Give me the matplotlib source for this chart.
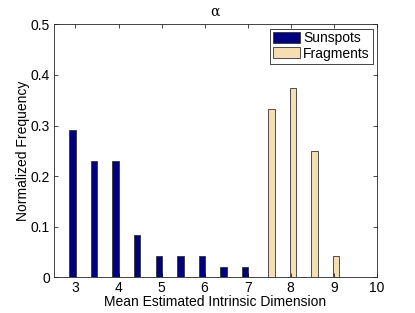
import matplotlib
matplotlib.use('Agg')
import matplotlib.pyplot as plt
import numpy as np

plt.rcParams['font.family'] = ['Liberation Sans', 'DejaVu Sans']

# Histogram bins and normalized frequencies
bins = [3, 3.5, 4, 4.5, 5, 5.5, 6, 6.5, 7, 7.5, 8, 8.5, 9]
sunspots = [0.292, 0.229, 0.229, 0.083, 0.042, 0.042, 0.042, 0.021, 0.021, 0, 0, 0, 0]
fragments = [0, 0, 0, 0, 0, 0, 0, 0, 0, 0.333, 0.375, 0.25, 0.042]
series_names = ['Sunspots', 'Fragments']

fig = plt.figure(figsize=(4.15, 3.13), dpi=100)
ax = fig.add_axes([0.130, 0.114, 0.778, 0.808])

x = np.array(bins)
w = 0.15
ax.bar(x - 0.065, sunspots, width=w, color='#000080', edgecolor='#333333',
       linewidth=0.6, label=series_names[0])
ax.bar(x + 0.05, fragments, width=w, color='#F5DEB3', edgecolor='#333333',
       linewidth=0.6, label=series_names[1])

ax.set_xlim(2.5, 10)
ax.set_ylim(0, 0.5)
ax.set_xticks(range(3, 11))
ax.set_yticks([0, 0.1, 0.2, 0.3, 0.4, 0.5])
ax.set_yticklabels(['0', '0.1', '0.2', '0.3', '0.4', '0.5'])
ax.tick_params(direction='in', length=3, width=0.5, labelsize=10,
               top=True, right=True, pad=3)
for s in ax.spines.values():
    s.set_linewidth(0.6)
    s.set_color('#222222')

ax.set_xlabel('Mean Estimated Intrinsic Dimension', fontsize=10, labelpad=0)
ax.set_ylabel('Normalized Frequency', fontsize=10, labelpad=0)
ax.set_title('α', fontsize=10, pad=6, family=['DejaVu Serif'])

leg = ax.legend(loc='upper right', fontsize=10, fancybox=False, framealpha=1,
                edgecolor='#222222', handlelength=2.0, handleheight=0.85,
                borderpad=0.2, labelspacing=0.1, handletextpad=0.2,
                borderaxespad=0.3)
leg.get_frame().set_linewidth(0.6)

fig.savefig('out.png', dpi=100)
